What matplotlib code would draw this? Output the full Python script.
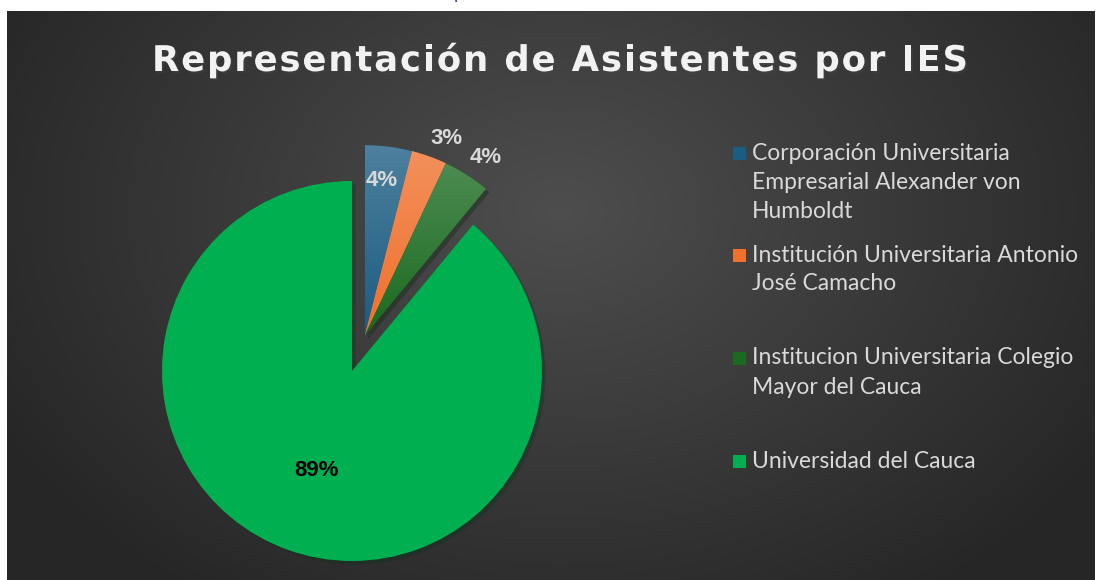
import numpy as np
import matplotlib.pyplot as plt
from matplotlib.font_manager import FontProperties
from matplotlib.textpath import text_to_path
from matplotlib import patheffects as pe
from matplotlib.colors import to_rgb

# data
title = "Representación de Asistentes por IES"
labels = ["Corporación Universitaria\nEmpresarial Alexander von\nHumboldt",
          "Institución Universitaria Antonio\nJosé Camacho",
          "Institucion Universitaria Colegio\nMayor del Cauca",
          "Universidad del Cauca"]
values = [4, 3, 4, 89]
pct_text = ["4%", "3%", "4%", "89%"]

colors = ['#1b5c82', '#f0702c', '#1a6a20', '#00b050']
group_explode = 0.2          # first three slices pulled out together
pct_dist = [0.82, 1.12, 1.13, 0.556]
pct_dang = [1.0, -2.7, -1.7, 0.0]
pct_colors = ['#d9d9d9', '#d9d9d9', '#d9d9d9', '#000000']

W, H, DPI = 1097, 580, 100
fig = plt.figure(figsize=(W / DPI, H / DPI), dpi=DPI, facecolor='white')

def px_axes(x0, y0_top, w, h):
    # axes from pixel box (top-left origin)
    return fig.add_axes([x0 / W, 1 - (y0_top + h) / H, w / W, h / H])

# background panel with soft radial gradient
bg = px_axes(7, 11, 1088, 569)
yy, xx = np.mgrid[11:580, 7:1095]
d = np.sqrt(((xx - 560) / 640.0) ** 2 + ((yy - 210) / 470.0) ** 2)
d = np.clip(d, 0, 1)
shade = 0.305 - 0.155 * d
bg.imshow(np.dstack([shade] * 3), aspect='auto', extent=[0, 1, 0, 1], origin='upper')
bg.set_axis_off()

# cut-off caption at the very top
fig.text(454 / W, 1 + 1.5 / H, "p", color='#1f3864', fontsize=11, va='baseline')

# title with letter spacing
fp = FontProperties(family='DejaVu Sans', weight='bold', size=25.5)
widths = [text_to_path.get_text_width_height_descent(c, fp, ismath=False)[0] * DPI / 72
          for c in title]
x_start, x_end = 152, 968
gap = (x_end - x_start - sum(widths)) / (len(title) - 1)
x = x_start
for c, wc in zip(title, widths):
    fig.text(x / W, 1 - 71 / H, c, fontproperties=fp, color='#f2f2f2', va='baseline',
             path_effects=[pe.withSimplePatchShadow(offset=(1.5, -1.5), alpha=0.35)])
    x += wc + gap

# pie
R = 190
cx, cy = 352, 371
half = 1.3 * R
ax = px_axes(cx - half, cy - half, 2 * half, 2 * half)
ax.patch.set_alpha(0)
wedges, _ = ax.pie(values, colors=colors, startangle=90, counterclock=False,
                   radius=1, frame=False, wedgeprops=dict(linewidth=0))
ax.set_xlim(-1.3, 1.3)
ax.set_ylim(-1.3, 1.3)
ax.set_axis_off()

# shift the three small slices outward as one block
gmid = np.deg2rad((wedges[0].theta2 + wedges[2].theta1) / 2)
shift = (group_explode * np.cos(gmid), group_explode * np.sin(gmid))
for w in wedges[:3]:
    w.set_center(shift)

for i, w in enumerate(wedges):
    w.set_path_effects([pe.SimplePatchShadow(offset=(2.5, -2.5), alpha=0.3), pe.Normal()])
    if i < 3:
        ext = w.get_path().get_extents()
        base = np.array(to_rgb(colors[i]))
        top = base + (1 - base) * 0.22
        t = np.linspace(0, 1, 64)[:, None]
        grad = top * (1 - t) + base * t
        im = ax.imshow(grad[:, None, :], aspect='auto', origin='upper',
                       extent=[ext.x0, ext.x1, ext.y0, ext.y1], zorder=w.get_zorder() + 0.1)
        im.set_clip_path(w)

ax.set_xlim(-1.3, 1.3)
ax.set_ylim(-1.3, 1.3)

for i, w in enumerate(wedges):
    ang = np.deg2rad((w.theta1 + w.theta2) / 2 + pct_dang[i])
    ox, oy = w.center
    ax.text(ox + pct_dist[i] * np.cos(ang), oy + pct_dist[i] * np.sin(ang), pct_text[i],
            ha='center', va='center', fontsize=16, fontweight='bold',
            family='Liberation Sans', color=pct_colors[i], zorder=10)

# legend
item_y = [153, 255, 358, 461]
line_h = 29
for i, lab in enumerate(labels):
    y0 = item_y[i]
    fig.patches.append(plt.Rectangle((733 / W, 1 - (y0 + 7) / H), 13 / W, 13 / H,
                                     transform=fig.transFigure, facecolor=colors[i],
                                     edgecolor='none'))
    for j, line in enumerate(lab.split("\n")):
        fig.text(752 / W, 1 - (y0 + j * line_h) / H, line, color='#d9d9d9',
                 fontsize=16.5, family='Lato', va='center')

fig.savefig('out.png', dpi=DPI, facecolor='white')
